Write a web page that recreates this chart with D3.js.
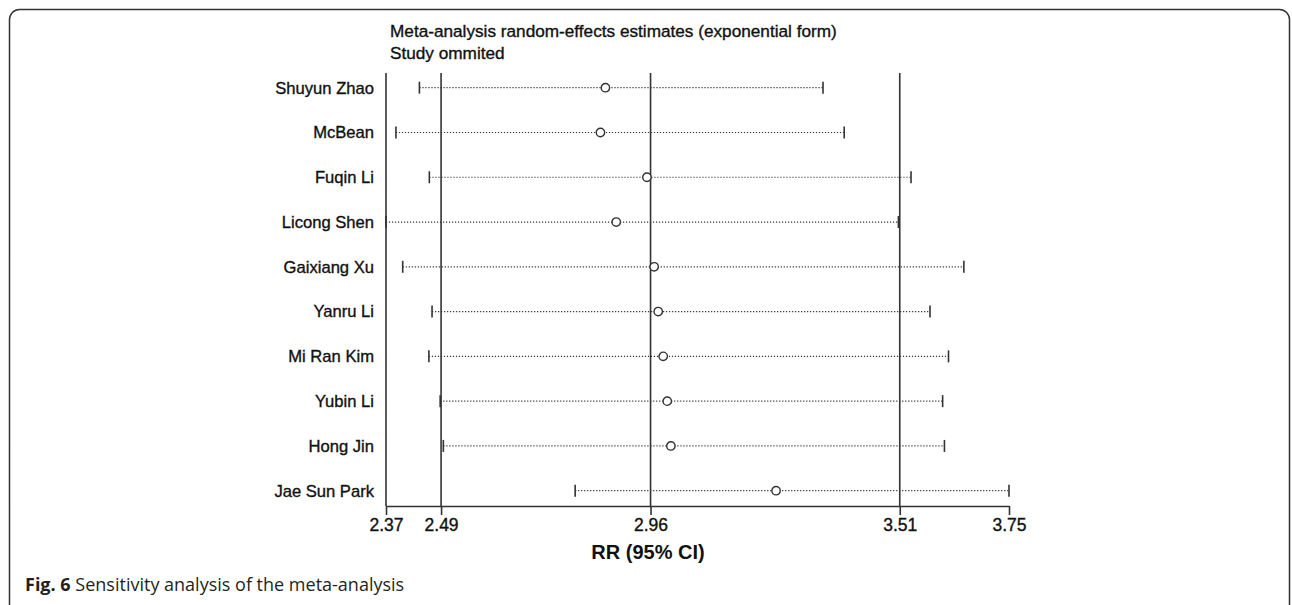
<!DOCTYPE html>
<html>
<head>
<meta charset="utf-8">
<script src="https://cdn.jsdelivr.net/npm/d3@7"></script>
<style>
	body { margin: 0; background: #fff; }
	svg { display: block; }
</style>
</head>
<body>
<svg id="chart" width="1292" height="605"></svg>
<script>
// study omitted in each run, top to bottom
const studies = ["Shuyun Zhao", "McBean", "Fuqin Li", "Licong Shen", "Gaixiang Xu",
	"Yanru Li", "Mi Ran Kim", "Yubin Li", "Hong Jin", "Jae Sun Park"];
const estimates = [2.856, 2.845, 2.948, 2.880, 2.964, 2.973, 2.984, 2.993, 3.001, 3.234];
const lowerCI = [2.444, 2.392, 2.466, 2.370, 2.407, 2.472, 2.465, 2.490, 2.497, 2.789];
const upperCI = [3.338, 3.385, 3.533, 3.505, 3.650, 3.575, 3.616, 3.603, 3.607, 3.750];

// axis: min lower, overall lower, overall estimate, overall upper, max upper
const tickValues = [2.37, 2.492, 2.956, 3.508, 3.75];
const tickLabels = ["2.37", "2.49", "2.96", "3.51", "3.75"];
const refLines = [2.492, 2.956, 3.508];

const titleLines = ["Meta-analysis random-effects estimates (exponential form)", "Study ommited"];
const axisTitle = "RR (95% CI)";

const svg = d3.select("#chart");
const ink = "#333";
const font = "'Liberation Sans', Arial, sans-serif";

// rounded frame of the figure
svg.append("rect")
	.attr("x", 9.5)
	.attr("y", 9.5)
	.attr("width", 1280)
	.attr("height", 640)
	.attr("rx", 10)
	.attr("fill", "none")
	.attr("stroke", ink)
	.attr("stroke-width", 1.5);

const x = d3.scaleLinear()
	.domain([tickValues[0], tickValues[tickValues.length - 1]])
	.range([386, 1009]);

const y = d3.scalePoint()
	.domain(studies)
	.range([87.7, 490.7]);

const plotTop = 73;
const axisY = 506;

// stata text looks a bit heavier than plain regular
function heavy(sel) {
	sel.attr("fill", "#111")
		.attr("stroke", "#111")
		.attr("stroke-width", 0.35);
}

// header
svg.append("g")
	.selectAll("text")
	.data(titleLines)
	.join("text")
	.attr("x", 390)
	.attr("y", (d, i) => 37 + i * 22)
	.attr("font-family", font)
	.attr("font-size", 17.2)
	.call(heavy)
	.text(d => d);

// left edge + reference lines for the pooled estimate and its CI
svg.append("g")
	.selectAll("line")
	.data([tickValues[0]].concat(refLines))
	.join("line")
	.attr("x1", d => x(d))
	.attr("x2", d => x(d))
	.attr("y1", plotTop)
	.attr("y2", axisY)
	.attr("stroke", ink)
	.attr("stroke-width", 1.6);

// x axis
const xAxis = d3.axisBottom(x)
	.tickValues(tickValues)
	.tickFormat((d, i) => tickLabels[i])
	.tickSize(9)
	.tickSizeOuter(0);

const axisG = svg.append("g")
	.attr("transform", `translate(0,${axisY})`)
	.call(xAxis);

axisG.select(".domain")
	.attr("stroke", ink)
	.attr("stroke-width", 1.6);
axisG.selectAll(".tick line")
	.attr("stroke", ink)
	.attr("stroke-width", 1.6);
axisG.selectAll(".tick text")
	.attr("y", 25)
	.attr("dy", 0)
	.attr("font-family", font)
	.attr("font-size", 17.5)
	.call(heavy);

svg.append("text")
	.attr("x", 648)
	.attr("y", 559)
	.attr("text-anchor", "middle")
	.attr("font-family", font)
	.attr("font-size", 20)
	.attr("font-weight", "bold")
	.attr("fill", "#111")
	.text(axisTitle);

// rows
const rows = svg.append("g")
	.selectAll("g")
	.data(studies)
	.join("g")
	.attr("transform", d => `translate(0,${y(d)})`);

rows.append("text")
	.attr("x", 374)
	.attr("y", 5.8)
	.attr("text-anchor", "end")
	.attr("font-family", font)
	.attr("font-size", 16.6)
	.call(heavy)
	.text(d => d);

rows.append("line")
	.attr("x1", (d, i) => x(lowerCI[i]))
	.attr("x2", (d, i) => x(upperCI[i]))
	.attr("stroke", "#333")
	.attr("stroke-width", 1.2)
	.attr("stroke-dasharray", "1.2,1.8");

rows.selectAll("line.cap")
	.data((d, i) => [lowerCI[i], upperCI[i]])
	.join("line")
	.attr("class", "cap")
	.attr("x1", d => x(d))
	.attr("x2", d => x(d))
	.attr("y1", -6)
	.attr("y2", 6)
	.attr("stroke", ink)
	.attr("stroke-width", 1.6);

rows.append("circle")
	.attr("cx", (d, i) => x(estimates[i]))
	.attr("cy", 0)
	.attr("r", 4.2)
	.attr("fill", "#fff")
	.attr("stroke", ink)
	.attr("stroke-width", 1.4);

// caption
const caption = svg.append("text")
	.attr("x", 25)
	.attr("y", 591)
	.attr("font-family", "'Open Sans', 'Noto Sans', sans-serif")
	.attr("font-size", 18)
	.attr("fill", "#231f20");
caption.append("tspan")
	.attr("font-weight", "bold")
	.text("Fig. 6");
caption.append("tspan")
	.text(" Sensitivity analysis of the meta-analysis");
</script>
</body>
</html>
